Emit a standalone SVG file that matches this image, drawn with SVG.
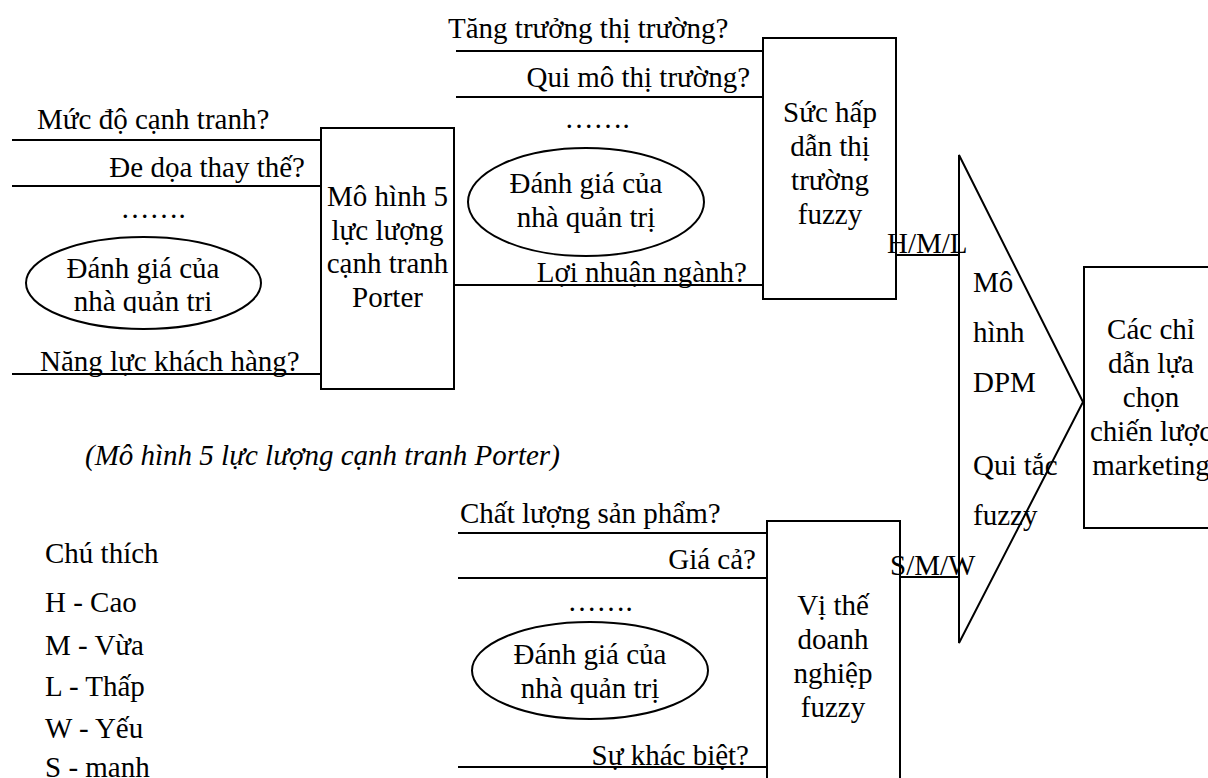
<svg xmlns="http://www.w3.org/2000/svg" width="1208" height="778" viewBox="0 0 1208 778">
<style>
text{font-size:29px;fill:#000}
.m{text-anchor:middle}
.e{text-anchor:end}
.it{font-style:italic}
.box{fill:#fff;stroke:#000;stroke-width:2}
.ln{stroke:#000;stroke-width:2;fill:none}
</style>
<defs>
<clipPath id="clipTL"><rect x="0" y="0" width="460" height="313"/></clipPath>
</defs>
<rect width="1208" height="778" fill="#fff"/>
<g font-family="Liberation Serif, Tinos, DejaVu Serif, Times New Roman, serif">
<g id="connectors">
<line class="ln" x1="12" y1="140" x2="321" y2="140"/>
<line class="ln" x1="12" y1="186" x2="321" y2="186"/>
<line class="ln" x1="12" y1="374" x2="321" y2="374"/>
<line class="ln" x1="456" y1="51" x2="763" y2="51"/>
<line class="ln" x1="456" y1="97" x2="763" y2="97"/>
<line class="ln" x1="454" y1="285" x2="763" y2="285"/>
<line class="ln" x1="458" y1="533" x2="767" y2="533"/>
<line class="ln" x1="458" y1="578" x2="767" y2="578"/>
<line class="ln" x1="458" y1="767" x2="767" y2="767"/>
<line class="ln" x1="896" y1="255" x2="959" y2="255"/>
<line class="ln" x1="900" y1="577" x2="959" y2="577"/>
</g>

<g id="eval-porter">
<ellipse class="ln" cx="143.5" cy="283" rx="117.5" ry="46"/>
<g clip-path="url(#clipTL)">
<text class="m" x="143" y="278">Đánh giá của</text>
<text class="m" x="143" y="311">nhà quản trị</text>
</g>
</g>

<g id="porter">
<rect class="box" x="321" y="128" width="133" height="261"/>
<text class="m" x="387.5" y="206">Mô hình 5</text>
<text class="m" x="387.5" y="240">lực lượng</text>
<text class="m" x="387.5" y="273">cạnh tranh</text>
<text class="m" x="387.5" y="307">Porter</text>
</g>

<g id="eval-market">
<ellipse class="ln" cx="586" cy="202" rx="118" ry="54"/>
<text class="m" x="586" y="193">Đánh giá của</text>
<text class="m" x="586" y="227">nhà quản trị</text>
</g>

<g id="market">
<rect class="box" x="763" y="38" width="133" height="261"/>
<text class="m" x="830" y="122">Sức hấp</text>
<text class="m" x="830" y="156">dẫn thị</text>
<text class="m" x="830" y="190">trường</text>
<text class="m" x="830" y="224">fuzzy</text>
</g>

<g id="eval-position">
<ellipse class="ln" cx="590" cy="670.5" rx="118" ry="48.5"/>
<text class="m" x="590" y="664">Đánh giá của</text>
<text class="m" x="590" y="698">nhà quản trị</text>
</g>

<g id="position">
<rect class="box" x="767" y="521" width="133" height="300"/>
<text class="m" x="833" y="615">Vị thế</text>
<text class="m" x="833" y="649">doanh</text>
<text class="m" x="833" y="683">nghiệp</text>
<text class="m" x="833" y="717">fuzzy</text>
</g>

<g id="dpm">
<polygon class="ln" points="959,155 1083,402 959,643"/>
<text x="973" y="292">Mô</text>
<text x="973" y="342">hình</text>
<text x="973" y="392">DPM</text>
<text x="973" y="475">Qui tắc</text>
<text x="973" y="525">fuzzy</text>
</g>

<g id="output">
<rect class="box" x="1084" y="267" width="160" height="261"/>
<text class="m" x="1151" y="339">Các chỉ</text>
<text class="m" x="1151" y="373">dẫn lựa</text>
<text class="m" x="1151" y="407">chọn</text>
<text class="m" x="1151" y="441">chiến lược</text>
<text class="m" x="1151" y="475">marketing</text>
</g>

<g id="labels">
<text x="37" y="129">Mức độ cạnh tranh?</text>
<text class="e" x="305" y="177">Đe dọa thay thế?</text>
<text class="m" x="153" y="218">…….</text>
<text x="40" y="371">Năng lực khách hàng?</text>
<text x="448" y="38">Tăng trưởng thị trường?</text>
<text class="e" x="750" y="87">Qui mô thị trường?</text>
<text class="m" x="597" y="128">…….</text>
<text class="e" x="747" y="282">Lợi nhuận ngành?</text>
<text x="460" y="523">Chất lượng sản phẩm?</text>
<text class="e" x="756" y="569">Giá cả?</text>
<text class="m" x="600" y="611">…….</text>
<text class="e" x="749" y="765">Sự khác biệt?</text>
<text x="887" y="253">H/M/L</text>
<text x="890" y="575">S/M/W</text>
<text class="it" x="85" y="465">(Mô hình 5 lực lượng cạnh tranh Porter)</text>
</g>

<g id="legend">
<text x="45" y="563">Chú thích</text>
<text x="45" y="612">H - Cao</text>
<text x="45" y="655">M - Vừa</text>
<text x="45" y="696">L - Thấp</text>
<text x="45" y="738">W - Yếu</text>
<text x="45" y="777">S - mạnh</text>
</g>
</g>
</svg>
